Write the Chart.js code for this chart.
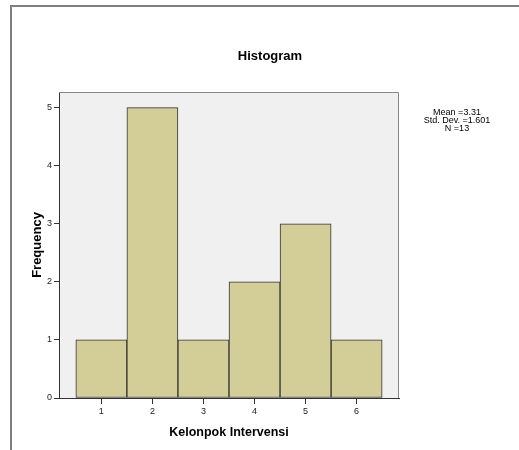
<!DOCTYPE html>
<html>
<head>
<meta charset="utf-8">
<script src="https://cdn.jsdelivr.net/npm/chart.js@4"></script>
<style>
  body { margin: 0; background: #fff; }
  canvas { display: block; }
</style>
</head>
<body>
<canvas id="container" width="519" height="450"></canvas>
<script>
const categories = [1, 2, 3, 4, 5, 6];
const frequencies = [1, 5, 1, 2, 3, 1];
const yTicks = [0, 1, 2, 3, 4, 5];
const statsLines = ["Mean =3.31", "Std. Dev. =1.601", "N =13"];

const ctx = document.getElementById("container");

// background, frame, title and stats box
const decor = {
  id: "decor",
  beforeDraw(chart) {
    const c = chart.ctx;
    const a = chart.chartArea;
    c.save();
    c.fillStyle = "#fff";
    c.fillRect(0, 0, chart.width, chart.height);
    c.strokeStyle = "#808080";
    c.lineWidth = 2;
    c.beginPath();
    c.moveTo(11, chart.height);
    c.lineTo(11, 6);
    c.lineTo(chart.width, 6);
    c.stroke();
    c.fillStyle = "#F0F0F0";
    c.fillRect(a.left, a.top, a.right - a.left, a.bottom - a.top);
    c.restore();
  },
  afterDraw(chart) {
    const c = chart.ctx;
    const a = chart.chartArea;
    c.save();
    c.strokeStyle = "#888";
    c.lineWidth = 1;
    c.beginPath();
    c.moveTo(a.left, a.top + 0.5);
    c.lineTo(a.right - 0.5, a.top + 0.5);
    c.lineTo(a.right - 0.5, a.bottom);
    c.stroke();
    c.fillStyle = "#000";
    c.textAlign = "center";
    c.textBaseline = "middle";
    c.font = "bold 13px Arial, 'Liberation Sans'";
    c.fillText("Histogram", 270, 56);
    c.font = "9px Arial, 'Liberation Sans'";
    statsLines.forEach((t, i) => c.fillText(t, 457, 113 + i * 8));
    c.restore();
  },
};

const myChart = new Chart(ctx, {
  type: "bar",
  data: {
    datasets: [
      {
        data: categories.map((c, i) => ({ x: c, y: frequencies[i] })),
        backgroundColor: "#D3CE98",
        borderColor: "#333",
        borderWidth: 1,
        borderSkipped: false,
        barPercentage: 1,
        categoryPercentage: 1,
      },
    ],
  },
  plugins: [decor],
  options: {
    responsive: false,
    animation: false,
    devicePixelRatio: 1,
    layout: { padding: { top: 92, right: 120, left: 0, bottom: 0 } },
    plugins: { legend: { display: false }, tooltip: { enabled: false } },
    scales: {
      x: {
        type: "linear",
        min: 0.17,
        max: 6.83,
        offset: false,
        afterBuildTicks: (s) => { s.ticks = categories.map((v) => ({ value: v })); },
        afterFit: (s) => { s.height = 52; },
        grid: { offset: false, drawOnChartArea: false, tickLength: 6, tickColor: "#333" },
        border: { color: "#333", width: 1 },
        ticks: { autoSkip: false, maxRotation: 0, padding: 2, color: "#222", font: { size: 9, family: "Arial, 'Liberation Sans'" } },
        title: {
          display: true,
          text: "Kelonpok Intervensi",
          color: "#000",
          padding: { top: 0, bottom: 10 },
          font: { size: 12.5, weight: "bold", family: "Arial, 'Liberation Sans'" },
        },
      },
      y: {
        min: 0,
        max: 5.27,
        afterBuildTicks: (s) => { s.ticks = yTicks.map((v) => ({ value: v })); },
        afterFit: (s) => { s.width = 59; },
        grid: { drawOnChartArea: false, tickLength: 5, tickColor: "#333" },
        border: { color: "#333", width: 1 },
        ticks: { padding: 2, color: "#222", font: { size: 9, family: "Arial, 'Liberation Sans'" } },
        title: {
          display: true,
          text: "Frequency",
          color: "#000",
          padding: { top: 30, bottom: 0 },
          font: { size: 13, weight: "bold", family: "Arial, 'Liberation Sans'" },
        },
      },
    },
  },
});
</script>
</body>
</html>
